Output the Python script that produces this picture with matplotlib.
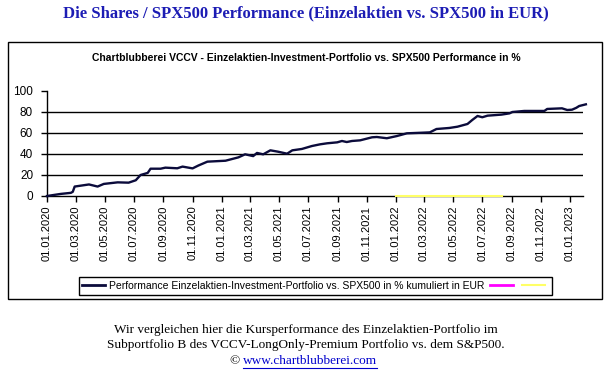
import matplotlib
matplotlib.use("Agg")
import matplotlib.pyplot as plt
from matplotlib.lines import Line2D
from matplotlib.patches import Rectangle
import pandas as pd

# ---- data ----
perf_dates = ["2020-01-01", "2020-01-30", "2020-02-20", "2020-02-24", "2020-02-28",
              "2020-03-29", "2020-04-16", "2020-04-29", "2020-05-28", "2020-06-20",
              "2020-07-05", "2020-07-15", "2020-07-30", "2020-08-05", "2020-08-26",
              "2020-09-05", "2020-09-30", "2020-10-11", "2020-11-01", "2020-11-13",
              "2020-12-02", "2021-01-09", "2021-02-05", "2021-02-19", "2021-03-08",
              "2021-03-16", "2021-03-29", "2021-04-13", "2021-04-29", "2021-05-18",
              "2021-05-29", "2021-06-18", "2021-07-09", "2021-07-26", "2021-08-10",
              "2021-08-31", "2021-09-10", "2021-09-20", "2021-10-01", "2021-10-18",
              "2021-11-12", "2021-11-22", "2021-12-13", "2022-01-03", "2022-01-24",
              "2022-02-26", "2022-03-13", "2022-03-27", "2022-04-23", "2022-05-10",
              "2022-05-31", "2022-06-10", "2022-06-21", "2022-07-01", "2022-07-12",
              "2022-08-10", "2022-08-27", "2022-09-02", "2022-09-27", "2022-11-08",
              "2022-11-14", "2022-12-15", "2022-12-26", "2023-01-05", "2023-01-14",
              "2023-01-20", "2023-02-03"]
perf_values = [0.0, 2.0, 3.0, 4.0, 9.0,
               11.0, 9.0, 11.5, 13.0, 12.7,
               15.0, 20.0, 22.0, 26.0, 26.0,
               27.0, 26.4, 28.0, 26.3, 29.0,
               32.7, 33.6, 36.8, 39.7, 38.0,
               41.0, 39.7, 43.5, 42.2, 40.3,
               43.5, 44.8, 47.6, 49.2, 50.2,
               51.1, 52.4, 51.4, 52.4, 53.0,
               55.9, 56.2, 55.0, 57.1, 59.7,
               60.3, 60.6, 63.8, 64.8, 66.0,
               68.6, 72.4, 76.2, 75.0, 76.5,
               77.5, 78.7, 80.0, 81.0, 81.0,
               82.9, 83.5, 81.9, 82.2, 84.0,
               85.7, 87.3]

yellow_dates = ["2022-01-01", "2022-08-12"]
yellow_values = [0.0, 0.0]

tick_dates = ["2020-01-01", "2020-03-01", "2020-05-01", "2020-07-01", "2020-09-01",
              "2020-11-01", "2021-01-01", "2021-03-01", "2021-05-01", "2021-07-01",
              "2021-09-01", "2021-11-01", "2022-01-01", "2022-03-01", "2022-05-01",
              "2022-07-01", "2022-09-01", "2022-11-01", "2023-01-01"]
tick_labels = ["01.01.2020", "01.03.2020", "01.05.2020", "01.07.2020", "01.09.2020",
               "01.11.2020", "01.01.2021", "01.03.2021", "01.05.2021", "01.07.2021",
               "01.09.2021", "01.11.2021", "01.01.2022", "01.03.2022", "01.05.2022",
               "01.07.2022", "01.09.2022", "01.11.2022", "01.01.2023"]
y_ticks = [0, 20, 40, 60, 80, 100]

label_main = "Performance Einzelaktien-Investment-Portfolio vs. SPX500 in % kumuliert in EUR"

# ---- figure ----
W, H = 612, 375
fig = plt.figure(figsize=(W / 100, H / 100), dpi=100)
fig.patch.set_facecolor("white")

# outer chart frame
fig.add_artist(Rectangle((7.5 / W, 1 - 299 / H), (602 - 7.5) / W, (299 - 42) / H,
                         transform=fig.transFigure, fill=False, edgecolor="black",
                         linewidth=1.0))

ax = fig.add_axes([47 / W, 1 - 196 / H, (583 - 47) / W, (196 - 91) / H])
x0 = pd.Timestamp("2020-01-01")
x1 = pd.Timestamp("2023-01-28")

pd_dates = pd.to_datetime(perf_dates)
ax.plot(pd.to_datetime(yellow_dates), yellow_values, color="#ffff66", linewidth=1.5,
        zorder=3, clip_on=False)
ax.plot(pd_dates, perf_values, color="#0b0b3b", linewidth=1.7, zorder=4,
        clip_on=False, solid_joinstyle="round")

ax.set_xlim(x0, x1)
ax.set_ylim(0, 100)
ax.set_yticks(y_ticks)
ax.set_yticklabels([str(v) for v in y_ticks], fontsize=8.5, family="Liberation Sans")
ax.set_xticks(pd.to_datetime(tick_dates))
ax.set_xticklabels(tick_labels, rotation=90, fontsize=8, family="Liberation Sans")

for v in [20, 40, 60, 80]:
    ax.axhline(v, color="black", linewidth=1.0, zorder=1)

for s in ["top", "right"]:
    ax.spines[s].set_visible(False)
ax.spines["left"].set_linewidth(1.0)
ax.spines["bottom"].set_linewidth(1.0)
ax.tick_params(axis="both", direction="out", length=4, width=1.0, color="black")
ax.tick_params(axis="x", pad=3)
ax.tick_params(axis="y", pad=6)

# titles
fig.text(0.5, 1 - 13 / H, "Die Shares / SPX500 Performance (Einzelaktien vs. SPX500 in EUR)",
         ha="center", va="center", fontsize=12, fontweight="bold",
         family="Liberation Serif", color="#1c1cb4")
fig.text(306 / W, 1 - 58 / H,
         "Chartblubberei VCCV - Einzelaktien-Investment-Portfolio vs. SPX500 Performance in %",
         ha="center", va="center", fontsize=7.5, fontweight="bold",
         family="Liberation Sans", color="black")

# legend
handles = [Line2D([], [], color="#0b0b3b", linewidth=2.0),
           Line2D([], [], color="#ff00ff", linewidth=2.0),
           Line2D([], [], color="#ffff66", linewidth=1.5)]
leg = fig.legend(handles, [label_main, "", ""], ncol=3, loc="center",
                 bbox_to_anchor=(315.5 / W, 1 - 286 / H), frameon=True,
                 fancybox=False, edgecolor="black", framealpha=1,
                 prop={"family": "Liberation Sans", "size": 7.5},
                 handlelength=2.2, handletextpad=0.3, columnspacing=0.6,
                 borderpad=0.35, borderaxespad=0)
leg.get_frame().set_linewidth(1.0)

# caption
cap_font = dict(ha="center", va="center", fontsize=9.5, family="Liberation Serif",
                color="black")
fig.text(0.5, 1 - 330 / H,
         "Wir vergleichen hier die Kursperformance des Einzelaktien-Portfolio im", **cap_font)
fig.text(0.5, 1 - 345 / H,
         "Subportfolio B des VCCV-LongOnly-Premium Portfolio vs. dem S&P500.", **cap_font)
fig.text(240 / W, 1 - 361 / H, "©", ha="right", va="center", fontsize=9.5,
         family="Liberation Serif", color="black")
url = fig.text(243 / W, 1 - 361 / H, "www.chartblubberei.com", ha="left", va="center",
               fontsize=9.5, family="Liberation Serif", color="#0000cc")
fig.canvas.draw()
bb = url.get_window_extent()
fig.add_artist(Line2D([bb.x0 / W, bb.x1 / W], [1 - 367.5 / H, 1 - 367.5 / H],
                      transform=fig.transFigure, color="#0000cc", linewidth=0.8))

fig.savefig("out.png", dpi=100, facecolor="white")
